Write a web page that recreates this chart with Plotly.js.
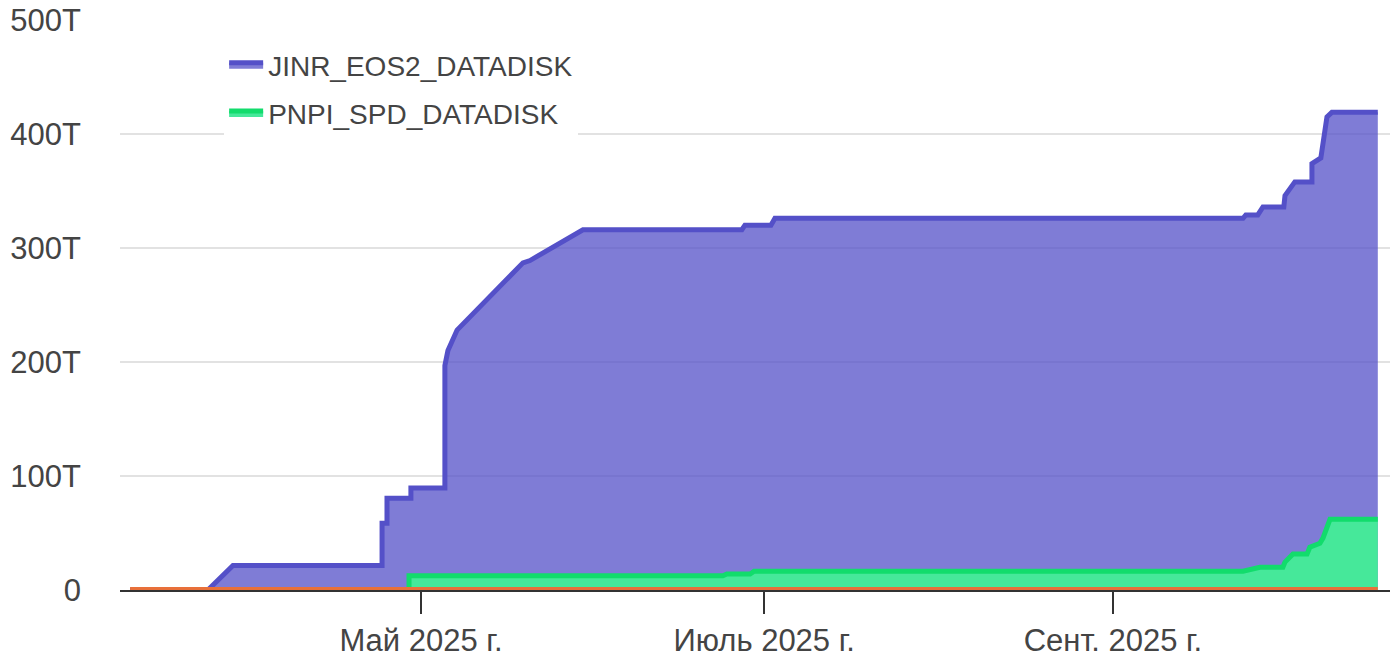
<!DOCTYPE html>
<html>
<head>
<meta charset="utf-8">
<script src="https://cdn.plot.ly/plotly-3.0.1.min.js"></script>
<style>
  html, body { margin: 0; padding: 0; background: #ffffff; }
  #chart { width: 1393px; height: 660px; }
</style>
</head>
<body>
<div id="chart"></div>
<script>
// ---- Data (values in TB) ----
const jinrName = "JINR_EOS2_DATADISK";
const jinrDates = [
  "2025-03-10 07:00", "2025-03-24 03:00", "2025-03-28 14:00", "2025-04-24 02:00",
  "2025-04-24 02:00", "2025-04-24 23:00", "2025-04-24 23:00", "2025-04-29 05:00",
  "2025-04-29 05:00", "2025-05-05 06:00", "2025-05-05 06:00", "2025-05-05 19:00",
  "2025-05-07 10:00", "2025-05-19 03:00", "2025-05-20 09:00", "2025-05-29 19:00",
  "2025-06-27 01:00", "2025-06-27 14:00", "2025-07-02 05:00", "2025-07-02 22:00",
  "2025-09-24 03:00", "2025-09-24 15:00", "2025-09-26 18:00", "2025-09-27 16:00",
  "2025-10-01 09:00", "2025-10-01 14:00", "2025-10-03 08:00", "2025-10-06 09:00",
  "2025-10-06 09:00", "2025-10-07 23:00", "2025-10-09 01:00", "2025-10-09 22:00",
  "2025-10-18 02:00"
];
const jinrValues = [
  0, 0, 21.5, 21.5,
  58.5, 58.5, 80.5, 80.5,
  89.5, 89.5, 197, 210,
  228, 287, 289, 316,
  316, 320, 320, 326,
  326, 329, 329, 336,
  336, 346, 358, 358,
  374, 379, 415, 419,
  419
];

const pnpiName = "PNPI_SPD_DATADISK";
const pnpiDates = [
  "2025-04-28 21:00", "2025-04-28 21:00", "2025-06-23 16:00", "2025-06-24 09:00",
  "2025-06-28 12:00", "2025-06-29 05:00", "2025-09-24 03:00", "2025-09-27 03:00",
  "2025-10-01 05:00", "2025-10-01 14:00", "2025-10-03 00:00", "2025-10-05 12:00",
  "2025-10-06 00:00", "2025-10-07 19:00", "2025-10-08 08:00", "2025-10-09 14:00",
  "2025-10-18 02:00"
];
const pnpiValues = [
  0, 12.5, 12.5, 14,
  14, 16.5, 16.5, 20,
  20, 24.5, 31.5, 31.5,
  37.5, 41, 45.5, 62,
  62
];

const otherDates = ["2025-03-10 07:00", "2025-10-18 02:00"];
const otherValues = [0, 0];

const xTickVals = ["2025-05-01", "2025-07-01", "2025-09-01"];
const xTickText = ["Май 2025 г.", "Июль 2025 г.", "Сент. 2025 г."];
const yTickVals = [0, 100, 200, 300, 400, 500];
const yTickText = ["0", "100T", "200T", "300T", "400T", "500T"];

// ---- Chart ----
const FONT = "Liberation Sans, Arial, sans-serif";
const FS = 31;
const LFS = 28;
const traces = [
  {
    x: jinrDates, y: jinrValues, name: jinrName, type: "scatter", mode: "lines",
    fill: "tozeroy", fillcolor: "rgba(82,78,200,0.74)",
    line: { color: "#5450c8", width: 5 },
    legendgroup: "a", hoverinfo: "skip"
  },
  {
    x: pnpiDates, y: pnpiValues, name: pnpiName, type: "scatter", mode: "lines",
    fill: "tozeroy", fillcolor: "#46e89a",
    line: { color: "#12dc6c", width: 5 },
    legendgroup: "b", hoverinfo: "skip"
  },
  {
    x: otherDates, y: otherValues, name: "other", type: "scatter", mode: "lines",
    line: { color: "#e8703a", width: 6 },
    showlegend: false, hoverinfo: "skip"
  }
];

const layout = {
  width: 1393, height: 660,
  margin: { l: 120, r: 3, t: 20, b: 70 },
  paper_bgcolor: "#ffffff", plot_bgcolor: "#ffffff",
  font: { family: FONT, size: FS, color: "#444444" },
  showlegend: true,
  legend: {
    x: 0.082, y: 0.965, xanchor: "left", yanchor: "top",
    bgcolor: "#ffffff", borderwidth: 0,
    font: { family: FONT, size: LFS, color: "#444444" },
    traceorder: "grouped", tracegroupgap: 9, itemwidth: 34
  },
  xaxis: {
    type: "date",
    range: ["2025-03-08 12:00", "2025-10-20 06:00"],
    tickmode: "array", tickvals: xTickVals, ticktext: xTickText,
    ticks: "outside", ticklen: 22, tickwidth: 2, tickcolor: "#333333",
    showline: true, linecolor: "#333333", linewidth: 2,
    layer: "below traces",
    showgrid: false, zeroline: false,
    tickfont: { family: FONT, size: FS, color: "#444444" },
    fixedrange: true
  },
  yaxis: {
    range: [0, 500],
    tickmode: "array", tickvals: yTickVals, ticktext: yTickText,
    ticks: "", showline: false, zeroline: false,
    showgrid: true, gridcolor: "#e2e2e2", gridwidth: 2,
    ticklabelstandoff: 38,
    layer: "below traces",
    tickfont: { family: FONT, size: FS, color: "#444444" },
    fixedrange: true
  }
};

Plotly.newPlot("chart", traces, layout, { displayModeBar: false, staticPlot: true });
</script>
</body>
</html>
